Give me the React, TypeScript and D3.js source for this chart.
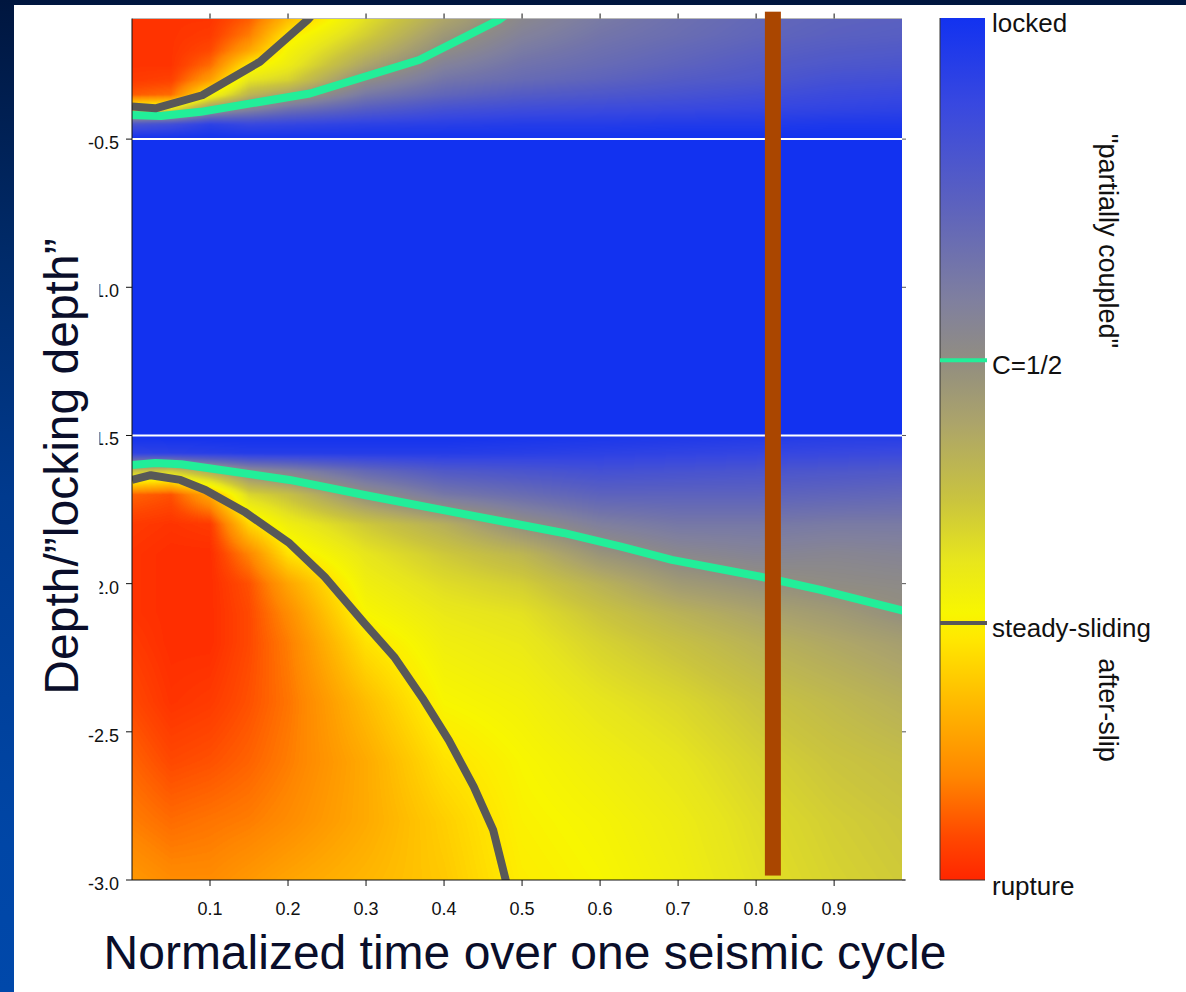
import React, { useMemo } from 'react';
import * as d3 from 'd3';

const width = 1186;
const height = 992;
const plot = { left: 132, right: 902, top: 18.5, bottom: 880 };
const font = 'Liberation Sans, Arial, Helvetica, sans-serif';

// axes
const timeDomain = [0, 0.987];
const depthDomain = [-3.0, -0.093];
const timeTicks = [0.1, 0.2, 0.3, 0.4, 0.5, 0.6, 0.7, 0.8, 0.9];
const depthTicks = [-0.5, -1.0, -1.5, -2.0, -2.5, -3.0];
const lockedBand = [-0.5, -1.5];

// coupling grid (0 = rupture, 1 = locked)
const gridTimes = [0, 0.05, 0.1, 0.15, 0.2, 0.3, 0.4, 0.5, 0.6, 0.7, 0.8, 0.9, 1.0];
const upperDepths = [-0.09, -0.15, -0.2, -0.25, -0.3, -0.35, -0.4, -0.45, -0.5];
const lowerDepths = [-1.5, -1.56, -1.62, -1.7, -1.8, -1.9, -2.0, -2.1, -2.2, -2.4, -2.6, -2.8, -3.0];

// one column per grid time, top to bottom
const upperCoupling = [
  [0.02, 0.02, 0.02, 0.02, 0.03, 0.07, 0.36, 0.84, 1.0],
  [0.02, 0.02, 0.02, 0.02, 0.04, 0.09, 0.38, 0.87, 1.0],
  [0.02, 0.03, 0.05, 0.09, 0.16, 0.31, 0.58, 0.93, 1.0],
  [0.07, 0.11, 0.17, 0.28, 0.37, 0.48, 0.66, 0.9, 1.0],
  [0.2, 0.28, 0.32, 0.35, 0.41, 0.54, 0.73, 0.91, 1.0],
  [0.38, 0.42, 0.47, 0.53, 0.61, 0.7, 0.81, 0.93, 1.0],
  [0.52, 0.57, 0.61, 0.66, 0.71, 0.77, 0.86, 0.94, 1.0],
  [0.63, 0.66, 0.69, 0.72, 0.75, 0.81, 0.88, 0.95, 1.0],
  [0.69, 0.71, 0.73, 0.75, 0.78, 0.83, 0.89, 0.95, 1.0],
  [0.73, 0.74, 0.76, 0.78, 0.81, 0.85, 0.9, 0.96, 1.0],
  [0.76, 0.77, 0.79, 0.81, 0.83, 0.87, 0.91, 0.96, 1.0],
  [0.78, 0.79, 0.81, 0.83, 0.86, 0.89, 0.92, 0.97, 1.0],
  [0.79, 0.8, 0.82, 0.84, 0.87, 0.9, 0.93, 0.97, 1.0],
];

const lowerCoupling = [
  [1.0, 0.92, 0.45, 0.08, 0.03, 0.02, 0.02, 0.02, 0.03, 0.05, 0.08, 0.11, 0.15],
  [1.0, 0.93, 0.42, 0.06, 0.02, 0.01, 0.01, 0.01, 0.01, 0.02, 0.05, 0.09, 0.13],
  [1.0, 0.94, 0.52, 0.18, 0.03, 0.01, 0.01, 0.01, 0.01, 0.03, 0.06, 0.1, 0.13],
  [1.0, 0.95, 0.62, 0.4, 0.25, 0.12, 0.06, 0.05, 0.05, 0.06, 0.08, 0.11, 0.15],
  [1.0, 0.95, 0.66, 0.45, 0.34, 0.27, 0.17, 0.13, 0.11, 0.1, 0.11, 0.13, 0.17],
  [1.0, 0.95, 0.76, 0.6, 0.43, 0.37, 0.34, 0.31, 0.27, 0.21, 0.18, 0.18, 0.2],
  [1.0, 0.95, 0.82, 0.7, 0.5, 0.43, 0.39, 0.36, 0.34, 0.31, 0.27, 0.24, 0.23],
  [0.99, 0.94, 0.84, 0.74, 0.6, 0.48, 0.42, 0.38, 0.36, 0.33, 0.31, 0.3, 0.29],
  [0.98, 0.93, 0.86, 0.78, 0.67, 0.58, 0.49, 0.44, 0.41, 0.37, 0.34, 0.32, 0.31],
  [0.97, 0.92, 0.85, 0.78, 0.7, 0.63, 0.56, 0.49, 0.45, 0.4, 0.37, 0.35, 0.34],
  [0.96, 0.91, 0.84, 0.78, 0.7, 0.65, 0.59, 0.53, 0.49, 0.44, 0.41, 0.39, 0.38],
  [0.95, 0.9, 0.83, 0.77, 0.69, 0.64, 0.61, 0.56, 0.52, 0.47, 0.44, 0.42, 0.41],
  [0.95, 0.89, 0.82, 0.76, 0.69, 0.65, 0.62, 0.6, 0.55, 0.5, 0.46, 0.44, 0.43],
];

// contour lines [time, depth]
const steadyUpper = [[0, -0.39], [0.03, -0.396], [0.09, -0.352], [0.164, -0.239], [0.225, -0.098], [0.233, -0.075]];
const halfUpper = [[0, -0.419], [0.037, -0.422], [0.088, -0.408], [0.228, -0.346], [0.368, -0.233], [0.47, -0.098], [0.482, -0.075]];
const steadyLower = [
  [0, -1.65], [0.024, -1.634], [0.062, -1.65], [0.094, -1.684], [0.144, -1.757], [0.202, -1.864],
  [0.247, -1.977], [0.298, -2.134], [0.336, -2.247], [0.374, -2.393], [0.406, -2.528], [0.438, -2.685],
  [0.463, -2.832], [0.479, -3.0], [0.482, -3.03],
];
const halfLower = [
  [0, -1.6], [0.03, -1.593], [0.063, -1.597], [0.202, -1.65], [0.298, -1.701], [0.399, -1.752],
  [0.553, -1.829], [0.628, -1.876], [0.692, -1.92], [0.814, -1.981], [0.884, -2.022], [0.99, -2.092],
];

const markerTime = 0.8215;
const markerDepths = [-0.07, -2.985];

// colour map
const cmapStops = [0, 0.05, 0.12, 0.21, 0.28, 0.31, 0.37, 0.44, 0.53, 0.6, 0.67, 0.79, 0.9, 1];
const cmapColors = ['#ff2600', '#ff4800', '#ff8600', '#ffbc00', '#ffe800', '#f8f600', '#e8e61c', '#cac43e',
  '#aca46a', '#928e80', '#80809e', '#5a60c0', '#3848e0', '#1232f0'];

const colorbarLabels = [
  { text: 'locked', value: 1 },
  { text: 'C=1/2', value: 0.603 },
  { text: 'steady-sliding', value: 0.298 },
  { text: 'rupture', value: 0 },
];
const contourLevels = [
  { value: 0.603, color: '#22ee99' },
  { value: 0.298, color: '#585858' },
];

const bar = { left: 940, right: 985, top: 18, bottom: 880 };

function bracket(arr: number[], v: number): [number, number] {
  const n = arr.length;
  const asc = arr[n - 1] > arr[0];
  for (let i = 0; i < n - 1; i++) {
    const a = arr[i], b = arr[i + 1];
    if (asc ? v <= b : v >= b) return [i, Math.max(0, Math.min(1, (v - a) / (b - a)))];
  }
  return [n - 2, 1];
}

function sample(grid: number[][], ti: [number, number], dj: [number, number]) {
  const [i, fx] = ti;
  const [j, fy] = dj;
  const a = grid[i][j] * (1 - fy) + grid[i][j + 1] * fy;
  const b = grid[i + 1][j] * (1 - fy) + grid[i + 1][j + 1] * fy;
  return a * (1 - fx) + b * fx;
}

const App = () => {
  const x = d3.scaleLinear().domain(timeDomain).range([plot.left, plot.right]);
  const y = d3.scaleLinear().domain(depthDomain).range([plot.bottom, plot.top]);
  const color = d3.scaleLinear<string>().domain(cmapStops).range(cmapColors).clamp(true);
  const cb = d3.scaleLinear().domain([0, 1]).range([bar.bottom, bar.top]);

  const heatmap = useMemo(() => {
    const w = Math.round(plot.right - plot.left);
    const h = Math.round(plot.bottom - plot.top);
    const canvas = document.createElement('canvas');
    canvas.width = w;
    canvas.height = h;
    const ctx = canvas.getContext('2d')!;
    const img = ctx.createImageData(w, h);
    const lut = d3.range(256).map(k => d3.rgb(color(k / 255)));
    const cols = d3.range(w).map(px => bracket(gridTimes, x.invert(plot.left + (px + 0.5) * (plot.right - plot.left) / w)));
    for (let py = 0; py < h; py++) {
      const d = y.invert(plot.top + (py + 0.5) * (plot.bottom - plot.top) / h);
      let grid: number[][] | null = null;
      let dj: [number, number] = [0, 0];
      if (d > lockedBand[0]) { grid = upperCoupling; dj = bracket(upperDepths, d); }
      else if (d < lockedBand[1]) { grid = lowerCoupling; dj = bracket(lowerDepths, d); }
      for (let px = 0; px < w; px++) {
        const v = grid ? sample(grid, cols[px], dj) : 1;
        const c = lut[Math.max(0, Math.min(255, Math.round(v * 255)))];
        const o = (py * w + px) * 4;
        img.data[o] = c.r;
        img.data[o + 1] = c.g;
        img.data[o + 2] = c.b;
        img.data[o + 3] = 255;
      }
    }
    ctx.putImageData(img, 0, 0);
    return canvas.toDataURL();
  }, []);

  const line = d3.line<number[]>().x(p => x(p[0])).y(p => y(p[1]));

  return (
    <div style={{ position: 'absolute', left: 0, top: 0 }}>
      <svg width={width} height={height} style={{ display: 'block' }}>
        <defs>
          <linearGradient id="navy" x1="0" y1="0" x2="0" y2="1">
            <stop offset="0" stopColor="#00163f" />
            <stop offset="0.25" stopColor="#002a68" />
            <stop offset="0.5" stopColor="#003a8e" />
            <stop offset="0.85" stopColor="#0046a6" />
            <stop offset="1" stopColor="#0048aa" />
          </linearGradient>
          <linearGradient id="cbar" x1="0" y1="1" x2="0" y2="0">
            {cmapStops.map((s, i) => <stop key={i} offset={s} stopColor={cmapColors[i]} />)}
          </linearGradient>
          <clipPath id="plotclip">
            <rect x={plot.left} y={plot.top} width={plot.right - plot.left} height={plot.bottom - plot.top} />
          </clipPath>
        </defs>

        <rect x={0} y={0} width={width} height={height} fill="url(#navy)" />
        <rect x={14} y={5} width={width - 14} height={height - 5} fill="#ffffff" />

        {/* heat map */}
        <image href={heatmap} x={plot.left} y={plot.top} width={plot.right - plot.left}
          height={plot.bottom - plot.top} preserveAspectRatio="none" />

        {lockedBand.map(d => (
          <line key={d} x1={plot.left} x2={plot.right} y1={y(d)} y2={y(d)} stroke="#ffffff" strokeWidth={2} />
        ))}

        <g clipPath="url(#plotclip)" fill="none" strokeLinejoin="round">
          <path d={line(halfUpper) || ''} stroke={contourLevels[0].color} strokeWidth={8} />
          <path d={line(halfLower) || ''} stroke={contourLevels[0].color} strokeWidth={8} />
          <path d={line(steadyUpper) || ''} stroke={contourLevels[1].color} strokeWidth={8} />
          <path d={line(steadyLower) || ''} stroke={contourLevels[1].color} strokeWidth={8} />
        </g>

        {/* frame */}
        <line x1={plot.left} x2={plot.right} y1={plot.top} y2={plot.top} stroke="#b8b8b8" strokeWidth={1} />
        <line x1={plot.left} x2={plot.left} y1={plot.top} y2={plot.bottom} stroke="#111" strokeWidth={1} />
        <line x1={plot.left} x2={plot.right + 3} y1={plot.bottom} y2={plot.bottom} stroke="#111" strokeWidth={1.2} />

        {timeTicks.map(t => (
          <g key={t}>
            <line x1={x(t)} x2={x(t)} y1={plot.bottom} y2={plot.bottom + 6} stroke="#111" strokeWidth={1} />
            <line x1={x(t)} x2={x(t)} y1={plot.top} y2={plot.top - 5} stroke="#111" strokeWidth={1} />
            <text x={x(t)} y={915} textAnchor="middle" fontFamily={font} fontSize={18} fill="#111">{t.toFixed(1)}</text>
          </g>
        ))}
        {depthTicks.map(d => (
          <g key={d}>
            <line x1={plot.left - 6} x2={plot.left} y1={y(d)} y2={y(d)} stroke="#111" strokeWidth={1} />
            <line x1={plot.right} x2={plot.right + 4} y1={y(d)} y2={y(d)} stroke="#555" strokeWidth={1} />
            <text x={119} y={y(d) + 10} textAnchor="end" fontFamily={font} fontSize={18} fill="#111">{d.toFixed(1)}</text>
          </g>
        ))}

        {/* marker */}
        <rect x={x(markerTime) - 8} width={16} y={y(markerDepths[0])} height={y(markerDepths[1]) - y(markerDepths[0])} fill="#aa4600" />

        {/* axis titles */}
        <rect x={14} y={232} width={85.5} height={470} fill="#ffffff" />
        <text transform={`translate(77.5,${466.5}) rotate(-90)`} textAnchor="middle" fontFamily={font}
          fontSize={48} fill="#0a0e2a">Depth/”locking depth”</text>
        <text x={525} y={969} textAnchor="middle" fontFamily={font} fontSize={48} fill="#0a0e2a">
          Normalized time over one seismic cycle
        </text>

        {/* colour bar */}
        <rect x={bar.left} y={bar.top} width={bar.right - bar.left} height={bar.bottom - bar.top} fill="url(#cbar)" />
        <line x1={bar.left} x2={bar.left} y1={bar.top} y2={bar.bottom} stroke="#333" strokeWidth={1} />
        <line x1={bar.left} x2={bar.right} y1={bar.bottom} y2={bar.bottom} stroke="#333" strokeWidth={1} />
        {contourLevels.map(c => (
          <line key={c.value} x1={bar.left} x2={bar.right + 2} y1={cb(c.value)} y2={cb(c.value)} stroke={c.color} strokeWidth={4} />
        ))}
        {colorbarLabels.map(l => (
          <text key={l.text} x={992} y={cb(l.value) + (l.value === 0 ? 15 : 13.5)} fontFamily={font} fontSize={26} fill="#111">
            {l.text}
          </text>
        ))}
        <text transform="translate(1099,241) rotate(90)" textAnchor="middle" fontFamily={font} fontSize={27} fill="#111">
          "partially coupled"
        </text>
        <text transform="translate(1099,710) rotate(90)" textAnchor="middle" fontFamily={font} fontSize={27} fill="#111">
          after-slip
        </text>
      </svg>
    </div>
  );
};

export default App;
